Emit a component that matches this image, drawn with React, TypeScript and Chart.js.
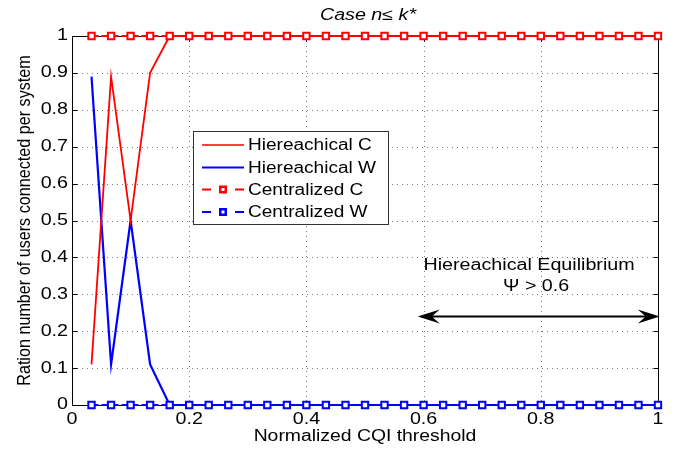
import React, { useEffect, useRef } from "react";
import { Chart, registerables } from "chart.js";

Chart.register(...registerables);

const FONT = '"Liberation Sans", Arial, Helvetica, sans-serif';
const SX = 1.23; // horizontal stretch of text seen in the reference

const xValues = [
  0.0333, 0.0667, 0.1, 0.1333, 0.1667, 0.2, 0.2333, 0.2667, 0.3, 0.3333,
  0.3667, 0.4, 0.4333, 0.4667, 0.5, 0.5333, 0.5667, 0.6, 0.6333, 0.6667,
  0.7, 0.7333, 0.7667, 0.8, 0.8333, 0.8667, 0.9, 0.9333, 0.9667, 1.0,
];
const hierC = [
  0.11, 0.89, 0.5, 0.9, 1, 1, 1, 1, 1, 1,
  1, 1, 1, 1, 1, 1, 1, 1, 1, 1,
  1, 1, 1, 1, 1, 1, 1, 1, 1, 1,
];
const hierW = [
  0.89, 0.11, 0.5, 0.11, 0, 0, 0, 0, 0, 0,
  0, 0, 0, 0, 0, 0, 0, 0, 0, 0,
  0, 0, 0, 0, 0, 0, 0, 0, 0, 0,
];
const centC = [
  1, 1, 1, 1, 1, 1, 1, 1, 1, 1,
  1, 1, 1, 1, 1, 1, 1, 1, 1, 1,
  1, 1, 1, 1, 1, 1, 1, 1, 1, 1,
];
const centW = [
  0, 0, 0, 0, 0, 0, 0, 0, 0, 0,
  0, 0, 0, 0, 0, 0, 0, 0, 0, 0,
  0, 0, 0, 0, 0, 0, 0, 0, 0, 0,
];
const xTicks = [0, 0.2, 0.4, 0.6, 0.8, 1];
const xTickLabels = ["0", "0.2", "0.4", "0.6", "0.8", "1"];
const yTicks = [0, 0.1, 0.2, 0.3, 0.4, 0.5, 0.6, 0.7, 0.8, 0.9, 1];
const yTickLabels = ["0", "0.1", "0.2", "0.3", "0.4", "0.5", "0.6", "0.7", "0.8", "0.9", "1"];
const seriesLabels = ["Hiereachical C", "Hiereachical W", "Centralized C", "Centralized W"];
const seriesColors = ["#ff0000", "#0000ff", "#ff0000", "#0000ff"];
const titleText = "Case n\u2264 k*";
const xTitle = "Normalized CQI threshold";
const yTitle = "Ration number of users connected per system";
const annotationLines = ["Hiereachical Equilibrium", "\u03A8 > 0.6"];
const annotationPos = [0.78, 0.377, 0.32]; // x, y line1, y line2
const arrowRange = [0.59, 1.003];
const arrowY = 0.24;

const toPts = (ys: number[]) => ys.map((y, i) => ({ x: xValues[i], y }));

function txt(ctx: CanvasRenderingContext2D, s: string, x: number, y: number, align: CanvasTextAlign, sx = SX) {
  ctx.save();
  ctx.translate(x, y);
  ctx.scale(sx, 1);
  ctx.textAlign = align;
  ctx.textBaseline = "middle";
  ctx.fillText(s, 0, 0);
  ctx.restore();
}

const decorPlugin = {
  id: "decor",
  beforeDatasetsDraw(chart: any) {
    const { ctx, chartArea: a, scales } = chart;
    const xs = scales.x;
    const ys = scales.y;
    ctx.save();
    // dotted grid
    ctx.strokeStyle = "rgba(70,70,70,0.7)";
    ctx.lineWidth = 1;
    ctx.setLineDash([1, 4]);
    xTicks.forEach((v) => {
      if (v <= 0 || v >= 1) return;
      const px = Math.round(xs.getPixelForValue(v)) + 0.5;
      ctx.beginPath();
      ctx.moveTo(px, a.top);
      ctx.lineTo(px, a.bottom);
      ctx.stroke();
    });
    yTicks.forEach((v) => {
      if (v <= 0 || v >= 1) return;
      const py = Math.round(ys.getPixelForValue(v)) + 0.5;
      ctx.beginPath();
      ctx.moveTo(a.left, py);
      ctx.lineTo(a.right, py);
      ctx.stroke();
    });
    ctx.setLineDash([]);
    // box
    ctx.strokeStyle = "#000";
    ctx.lineWidth = 1;
    const l = Math.round(a.left) + 0.5;
    const r = Math.round(a.right) + 0.5;
    const t = Math.round(a.top) + 0.5;
    const b = Math.round(a.bottom) + 0.5;
    ctx.strokeRect(l, t, r - l, b - t);
    // inward ticks
    const tl = 5;
    xTicks.forEach((v) => {
      const px = Math.round(xs.getPixelForValue(v)) + 0.5;
      ctx.beginPath();
      ctx.moveTo(px, b);
      ctx.lineTo(px, b - tl);
      ctx.moveTo(px, t);
      ctx.lineTo(px, t + tl);
      ctx.stroke();
    });
    yTicks.forEach((v) => {
      const py = Math.round(ys.getPixelForValue(v)) + 0.5;
      ctx.beginPath();
      ctx.moveTo(l, py);
      ctx.lineTo(l + tl, py);
      ctx.moveTo(r, py);
      ctx.lineTo(r - tl, py);
      ctx.stroke();
    });
    ctx.restore();
  },
  afterDatasetsDraw(chart: any) {
    const { ctx, chartArea: a, scales } = chart;
    const xs = scales.x;
    const ys = scales.y;
    ctx.save();
    ctx.fillStyle = "#000";
    ctx.font = `16px ${FONT}`;
    // tick labels
    xTicks.forEach((v, i) => {
      txt(ctx, xTickLabels[i], xs.getPixelForValue(v), a.bottom + 15, "center");
    });
    yTicks.forEach((v, i) => {
      txt(ctx, yTickLabels[i], a.left - 4, ys.getPixelForValue(v), "right");
    });
    // title
    ctx.font = `italic 16px ${FONT}`;
    txt(ctx, titleText, (a.left + a.right) / 2 + 3, 16, "center");
    // axis titles
    ctx.font = `16px ${FONT}`;
    txt(ctx, xTitle, (a.left + a.right) / 2, 437, "center", 1.21);
    ctx.save();
    ctx.translate(25, (a.top + a.bottom) / 2);
    ctx.rotate(-Math.PI / 2);
    ctx.scale(1.01, 1.15);
    ctx.textAlign = "center";
    ctx.textBaseline = "middle";
    ctx.fillText(yTitle, 0, 0);
    ctx.restore();

    // annotation
    const ax = xs.getPixelForValue(annotationPos[0]);
    txt(ctx, annotationLines[0], ax, ys.getPixelForValue(annotationPos[1]), "center");
    txt(ctx, annotationLines[1], ax + 7, ys.getPixelForValue(annotationPos[2]), "center");

    // double arrow
    const x1 = xs.getPixelForValue(arrowRange[0]);
    const x2 = xs.getPixelForValue(arrowRange[1]);
    const yA = ys.getPixelForValue(arrowY);
    ctx.strokeStyle = "#000";
    ctx.lineWidth = 2;
    ctx.beginPath();
    ctx.moveTo(x1 + 6, yA);
    ctx.lineTo(x2 - 6, yA);
    ctx.stroke();
    const head = (tipX: number, dir: number) => {
      ctx.beginPath();
      ctx.moveTo(tipX, yA);
      ctx.lineTo(tipX + dir * 22, yA - 7);
      ctx.lineTo(tipX + dir * 14, yA);
      ctx.lineTo(tipX + dir * 22, yA + 7);
      ctx.closePath();
      ctx.fill();
    };
    head(x1, 1);
    head(x2, -1);

    // legend
    const lx = 193.5;
    const ly = 131.5;
    const lw = 195;
    const lh = 93;
    ctx.fillStyle = "#fff";
    ctx.fillRect(lx, ly, lw, lh);
    ctx.strokeStyle = "#333";
    ctx.lineWidth = 1;
    ctx.strokeRect(lx, ly, lw, lh);
    const rows = [145, 167.5, 189.5, 212];
    seriesLabels.forEach((lab, i) => {
      const yy = rows[i];
      const c = seriesColors[i];
      ctx.strokeStyle = c;
      if (i < 2) {
        ctx.lineWidth = i === 0 ? 1.5 : 2;
        ctx.beginPath();
        ctx.moveTo(202, yy);
        ctx.lineTo(244, yy);
        ctx.stroke();
      } else {
        ctx.lineWidth = 2;
        ctx.beginPath();
        ctx.moveTo(202, yy);
        ctx.lineTo(211, yy);
        ctx.moveTo(235, yy);
        ctx.lineTo(244, yy);
        ctx.stroke();
        ctx.fillStyle = c;
        ctx.fillRect(219, yy - 4, 8, 8);
        ctx.fillStyle = "#fff";
        ctx.fillRect(221.5, yy - 1.5, 3, 3);
      }
      ctx.fillStyle = "#000";
      ctx.font = `16px ${FONT}`;
      txt(ctx, lab, 248, yy + 1, "left", 1.19);
    });
    ctx.restore();
  },
};

export default function App() {
  const ref = useRef<HTMLCanvasElement | null>(null);
  useEffect(() => {
    if (!ref.current) return;
    const mk = (i: number, data: number[], extra: any) => ({
      label: seriesLabels[i],
      data: toPts(data),
      borderColor: seriesColors[i],
      backgroundColor: seriesColors[i],
      tension: 0,
      clip: false,
      ...extra,
    });
    const chart = new Chart(ref.current, {
      type: "line",
      data: {
        datasets: [
          mk(0, hierC, { borderWidth: 1.8, pointRadius: 0, order: 2 }),
          mk(1, hierW, { borderWidth: 2.2, pointRadius: 0, order: 2 }),
          mk(2, centC, {
            borderWidth: 2,
            borderDash: [7, 3],
            pointStyle: "rect",
            pointRadius: 4.5,
            pointBorderWidth: 2,
            pointBackgroundColor: "#ffffff",
            pointBorderColor: seriesColors[2],
            order: 1,
          }),
          mk(3, centW, {
            borderWidth: 2,
            borderDash: [7, 3],
            pointStyle: "rect",
            pointRadius: 4.5,
            pointBorderWidth: 2,
            pointBackgroundColor: "#ffffff",
            pointBorderColor: seriesColors[3],
            order: 1,
          }),
        ],
      },
      options: {
        animation: false,
        responsive: false,
        layout: { padding: { left: 0, right: 27, top: 36, bottom: 0 } },
        plugins: {
          legend: { display: false },
          title: { display: false },
          tooltip: { enabled: false },
        },
        events: [],
        scales: {
          x: {
            type: "linear",
            min: 0,
            max: 1,
            grid: { display: false, drawTicks: false },
            border: { display: false },
            afterBuildTicks: (s: any) => {
              s.ticks = xTicks.map((v) => ({ value: v }));
            },
            afterFit: (s: any) => {
              s.height = 47;
            },
            ticks: { display: false },
          },
          y: {
            type: "linear",
            min: 0,
            max: 1,
            grid: { display: false, drawTicks: false },
            border: { display: false },
            afterBuildTicks: (s: any) => {
              s.ticks = yTicks.map((v) => ({ value: v }));
            },
            afterFit: (s: any) => {
              s.width = 72;
            },
            ticks: { display: false },
          },
        },
      },
      plugins: [decorPlugin],
    } as any);
    return () => chart.destroy();
  }, []);
  return (
    <div style={{ position: "fixed", left: 0, top: 0, width: 685, height: 452, background: "#fff" }}>
      <canvas ref={ref} width={685} height={452} style={{ width: 685, height: 452, display: "block" }} />
    </div>
  );
}
